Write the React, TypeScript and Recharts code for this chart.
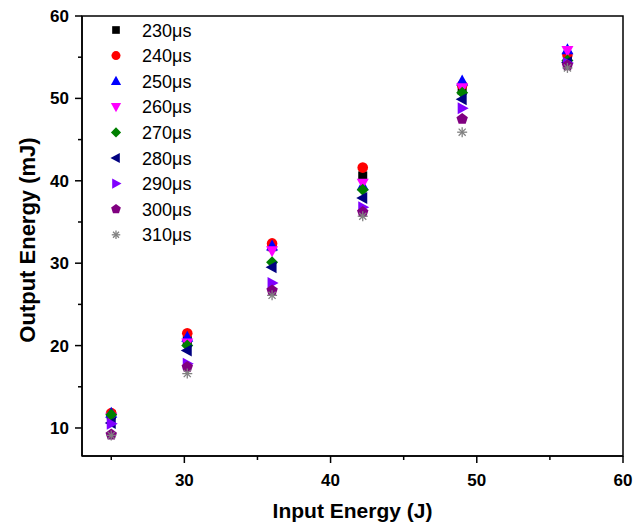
import React from 'react';
import { ScatterChart, Scatter, XAxis, YAxis, ReferenceArea } from 'recharts';

const inputEnergy = [25, 30.2, 36, 42.2, 49, 56.2];
const seriesNames = ['230μs', '240μs', '250μs', '260μs', '270μs', '280μs', '290μs', '300μs', '310μs'];
const s230 = [11.6, 20.6, 32.0, 40.6, 51.0, 54.8];
const s240 = [11.8, 21.5, 32.4, 41.6, 51.6, 55.3];
const s250 = [11.8, 21.0, 32.1, 39.4, 52.1, 55.9];
const s260 = [11.3, 20.3, 31.5, 39.7, 51.3, 55.8];
const s270 = [11.6, 20.0, 30.1, 38.9, 50.7, 54.6];
const s280 = [10.6, 19.4, 29.5, 37.9, 49.9, 54.4];
const s290 = [10.5, 17.8, 27.6, 36.8, 48.8, 54.3];
const s300 = [9.2, 17.4, 26.7, 36.2, 47.5, 54.0];
const s310 = [9.1, 16.6, 26.1, 35.7, 45.9, 53.7];
const seriesValues = [s230, s240, s250, s260, s270, s280, s290, s300, s310];
const xTicks = [25, 30, 35, 40, 45, 50, 55, 60];
const yTicks = [10, 15, 20, 25, 30, 35, 40, 45, 50, 55, 60];

const kinds = ['square', 'circle', 'up', 'down', 'diamond', 'left', 'right', 'pentagon', 'asterisk'];
const colors = ['#000000', '#ff0000', '#0000ff', '#ff00ff', '#008000', '#000080', '#8000ff', '#800080', '#808080'];

const FONT = 'Arial, "Liberation Sans", sans-serif';

function Marker({ cx, cy, kind, color, k = 1 }: { cx: number; cy: number; kind: string; color: string; k?: number }) {
  const pts = (arr: number[][]) => arr.map((p) => `${cx + p[0] * k},${cy + p[1] * k}`).join(' ');
  switch (kind) {
    case 'square':
      return <rect x={cx - 4.5 * k} y={cy - 4.5 * k} width={9 * k} height={9 * k} fill={color} />;
    case 'circle':
      return <circle cx={cx} cy={cy} r={5.3 * k} fill={color} />;
    case 'up':
      return <polygon points={pts([[0, -6.5], [6, 4.5], [-6, 4.5]])} fill={color} />;
    case 'down':
      return <polygon points={pts([[-6, -4.5], [6, -4.5], [0, 6.5]])} fill={color} />;
    case 'diamond':
      return <polygon points={pts([[0, -6], [6, 0], [0, 6], [-6, 0]])} fill={color} />;
    case 'left':
      return <polygon points={pts([[-6.5, 0], [4.5, -6], [4.5, 6]])} fill={color} />;
    case 'right':
      return <polygon points={pts([[6.5, 0], [-4.5, -6], [-4.5, 6]])} fill={color} />;
    case 'pentagon': {
      const p: number[][] = [];
      for (let i = 0; i < 5; i++) {
        const a = -Math.PI / 2 + (i * 2 * Math.PI) / 5;
        p.push([Math.cos(a) * 6, Math.sin(a) * 6]);
      }
      return <polygon points={pts(p)} fill={color} />;
    }
    default: {
      const lines = [];
      for (let i = 0; i < 4; i++) {
        const a = (i * Math.PI) / 4;
        lines.push(
          <line key={i} x1={cx - Math.cos(a) * 5 * k} y1={cy - Math.sin(a) * 5 * k} x2={cx + Math.cos(a) * 5 * k} y2={cy + Math.sin(a) * 5 * k} stroke={color} strokeWidth={1.3} />
        );
      }
      return <g>{lines}</g>;
    }
  }
}

const XTick = (props: any) => {
  const { x, y, payload } = props;
  const major = payload.value % 10 === 0;
  return (
    <g>
      <line x1={x} y1={y} x2={x} y2={y + (major ? 7 : 4)} stroke="#000" strokeWidth={1.5} />
      {major && (
        <text x={x} y={y + 30} textAnchor="middle" fontFamily={FONT} fontWeight="bold" fontSize={17} fill="#000">
          {payload.value}
        </text>
      )}
    </g>
  );
};

const YTick = (props: any) => {
  const { x, y, payload } = props;
  const major = payload.value % 10 === 0;
  return (
    <g>
      <line x1={x} y1={y} x2={x - (major ? 7 : 4)} y2={y} stroke="#000" strokeWidth={1.5} />
      {major && (
        <text x={x - 13} y={y + 6} textAnchor="end" fontFamily={FONT} fontWeight="bold" fontSize={17} fill="#000">
          {payload.value}
        </text>
      )}
    </g>
  );
};

const LegendBox = () => (
  <svg width={160} height={240} style={{ position: 'absolute', left: 90, top: 8 }}>
    {seriesNames.map((n, i) => (
      <g key={n}>
        <Marker cx={18} cy={14 + i * 25.6} kind={kinds[i]} color={colors[i]} k={0.85} />
        <text x={44} y={14 + i * 25.6 + 6.5} fontFamily={FONT} fontSize={18} fill="#000">
          {n}
        </text>
      </g>
    ))}
  </svg>
);

export default function App() {
  return (
    <div style={{ position: 'relative', width: 636, height: 519 }}>
      <ScatterChart width={636} height={519} margin={{ top: 8, right: 21, bottom: 0, left: 0 }}>
        <XAxis
          type="number"
          dataKey="x"
          domain={[23, 60]}
          ticks={xTicks}
          allowDataOverflow
          height={71}
          tickSize={0}
          tickMargin={0}
          tickLine={false}
          axisLine={{ stroke: '#000', strokeWidth: 1.5 }}
          tick={<XTick />}
          interval={0}
          label={(p: any) => {
            const vb = p.viewBox;
            return (
              <text x={vb.x + vb.width / 2} y={vb.y + 62} textAnchor="middle" fontFamily={FONT} fontWeight="bold" fontSize={21} fill="#000">
                Input Energy (J)
              </text>
            );
          }}
        />
        <YAxis
          type="number"
          dataKey="y"
          domain={[6.6, 60]}
          ticks={yTicks}
          allowDataOverflow
          width={74}
          tickSize={0}
          tickMargin={0}
          tickLine={false}
          axisLine={{ stroke: '#000', strokeWidth: 1.5 }}
          tick={<YTick />}
          interval={0}
          label={(p: any) => {
            const vb = p.viewBox;
            const cx = vb.x + 20;
            const cy = vb.y + vb.height / 2 + 4;
            return (
              <text x={cx} y={cy} transform={`rotate(-90 ${cx} ${cy})`} dy={7} textAnchor="middle" fontFamily={FONT} fontWeight="bold" fontSize={22} fill="#000">
                Output Energy (mJ)
              </text>
            );
          }}
        />
        <ReferenceArea x1={23} x2={60} y1={6.6} y2={60} fill="none" stroke="#000" strokeWidth={1.5} ifOverflow="visible" />
        {seriesValues.map((vals, i) => (
          <Scatter
            key={seriesNames[i]}
            name={seriesNames[i]}
            data={inputEnergy.map((x, j) => ({ x, y: vals[j] }))}
            fill={colors[i]}
            isAnimationActive={false}
            shape={(p: any) => <Marker cx={p.cx} cy={p.cy} kind={kinds[i]} color={colors[i]} />}
          />
        ))}
      </ScatterChart>
      <LegendBox />
    </div>
  );
}
